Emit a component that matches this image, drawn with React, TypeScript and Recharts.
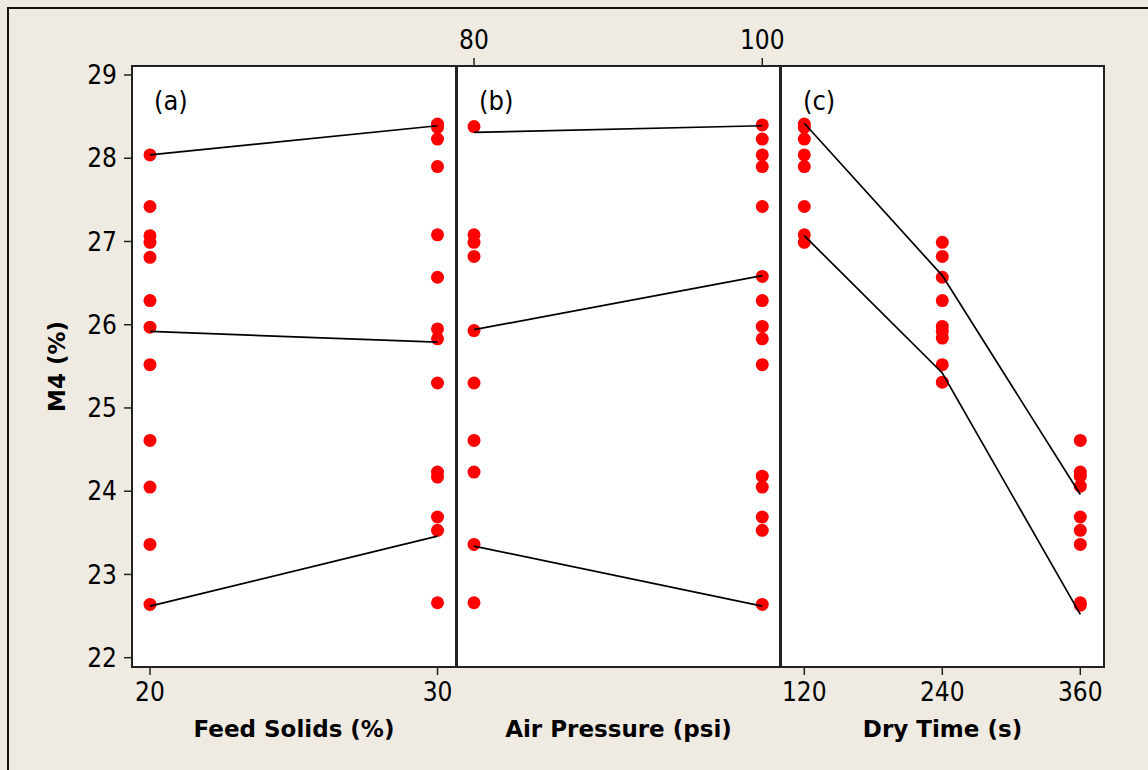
import { ScatterChart, Scatter, XAxis, YAxis } from 'recharts'

const FONT = "'DejaVu Sans Condensed', Tahoma, 'DejaVu Sans', sans-serif"
const BOLD_FONT = "'DejaVu Sans', Verdana, sans-serif"
const BG = '#efebe2'
const EDGE = '#222'
const RED = '#ff0000'

// shared M4 (%) axis
const Y_DOMAIN: [number, number] = [21.888, 29.108]
const Y_TICKS = [22, 23, 24, 25, 26, 27, 28, 29]

// (a) Feed Solids (%)
const FEED_LEVELS = [20, 30]
const feed20 = [28.04, 27.42, 27.07, 26.99, 26.81, 26.29, 25.97, 25.52, 24.61, 24.05, 23.36, 22.64]
const feed30 = [28.41, 28.37, 28.23, 27.9, 27.08, 26.57, 25.95, 25.83, 25.3, 24.23, 24.17, 23.69, 23.53, 22.66]
const feedLineTop = [28.04, 28.39]
const feedLineMid = [25.92, 25.79]
const feedLineLow = [22.62, 23.46]

// (b) Air Pressure (psi)
const AIR_LEVELS = [80, 100]
const air80 = [28.38, 27.08, 26.99, 26.82, 25.93, 25.3, 24.61, 24.23, 23.36, 22.66]
const air100 = [28.4, 28.23, 28.04, 27.9, 27.42, 26.58, 26.29, 25.98, 25.83, 25.52, 24.18, 24.05, 23.69, 23.53, 22.64]
const airLineTop = [28.31, 28.39]
const airLineMid = [25.94, 26.59]
const airLineLow = [23.34, 22.62]

// (c) Dry Time (s)
const DRY_LEVELS = [120, 240, 360]
const dry120 = [28.41, 28.37, 28.23, 28.04, 27.9, 27.42, 27.08, 26.99]
const dry240 = [26.99, 26.82, 26.57, 26.29, 25.98, 25.92, 25.84, 25.52, 25.31]
const dry360 = [24.61, 24.23, 24.18, 24.06, 23.69, 23.53, 23.36, 22.66, 22.63]
const dryLineTop = [28.42, 26.59, 23.96]
const dryLineLow = [27.07, 25.42, 22.52]

interface Pt {
  x: number
  y: number
}

const toPoints = (levels: number[], groups: number[][]): Pt[] =>
  groups.flatMap((ys, i) => ys.map((y) => ({ x: levels[i], y })))

const toLine = (levels: number[], ys: number[]): Pt[] => ys.map((y, i) => ({ x: levels[i], y }))

const PLOT_TOP = 66
const PLOT_H = 601
const CHART_H = 770
const PAD = 30 // room on the right so end tick labels are not clipped

function Dot(props: { cx?: number; cy?: number }) {
  return <circle cx={props.cx} cy={props.cy} r={6.5} fill={RED} />
}

function NoShape() {
  return <g />
}

function YTitle(props: { viewBox?: { y: number; height: number } }) {
  const cy = (props.viewBox?.y ?? PLOT_TOP) + (props.viewBox?.height ?? PLOT_H) / 2
  return (
    <text
      x={65}
      y={cy}
      transform={`rotate(-90, 65, ${cy})`}
      textAnchor="middle"
      fontFamily={BOLD_FONT}
      fontWeight={700}
      fontSize={23}
      fill="#000"
    >
      M4 (%)
    </text>
  )
}

function Panel({
  left,
  plotW,
  plotLeft,
  domain,
  ticks,
  topTicks,
  title,
  tag,
  points,
  lines,
  showY,
}: {
  left: number
  plotW: number
  plotLeft: number
  domain: [number, number]
  ticks: number[]
  topTicks?: boolean
  title: string
  tag: string
  points: Pt[]
  lines: Pt[][]
  showY?: boolean
}) {
  const width = plotLeft + plotW + PAD
  const tickStyle = { fontSize: 26, fill: '#000', fontFamily: FONT }
  const titleLabel = {
    value: title,
    position: 'insideBottom' as const,
    offset: 10,
    fill: '#000',
    fontSize: 23,
    fontWeight: 700,
    fontFamily: BOLD_FONT,
  }
  const xId = topTicks ? 'top' : 'bottom'
  return (
    <div style={{ position: 'absolute', left, top: 0, width, height: CHART_H }}>
      <div
        style={{
          position: 'absolute',
          left: plotLeft - 1,
          top: PLOT_TOP - 1,
          width: plotW + 2,
          height: PLOT_H + 2,
          background: '#fff',
          border: `2px solid ${EDGE}`,
          boxSizing: 'border-box',
        }}
      />
      <div style={{ position: 'absolute', left: 0, top: 0 }}>
        <ScatterChart
          width={width}
          height={CHART_H}
          margin={{ top: topTicks ? 0 : PLOT_TOP, right: PAD, bottom: 23, left: 0 }}
        >
          {topTicks && (
            <XAxis
              xAxisId="top"
              orientation="top"
              type="number"
              dataKey="x"
              domain={domain}
              ticks={ticks}
              interval={0}
              allowDataOverflow
              height={PLOT_TOP}
              tickSize={8}
              tickMargin={9}
              axisLine={false}
              tickLine={{ stroke: EDGE, strokeWidth: 1.5 }}
              tick={tickStyle}
            />
          )}
          <XAxis
            xAxisId="bottom"
            type="number"
            dataKey="x"
            domain={domain}
            ticks={topTicks ? [] : ticks}
            interval={0}
            allowDataOverflow
            height={80}
            tickSize={8}
            tickMargin={8}
            axisLine={false}
            tickLine={topTicks ? false : { stroke: EDGE, strokeWidth: 1.5 }}
            tick={topTicks ? false : tickStyle}
            label={titleLabel}
          />
          {showY ? (
            <YAxis
              type="number"
              domain={Y_DOMAIN}
              ticks={Y_TICKS}
              interval={0}
              allowDataOverflow
              width={plotLeft}
              tickSize={8}
              tickMargin={7}
              axisLine={false}
              tickLine={{ stroke: EDGE, strokeWidth: 1.5 }}
              tick={tickStyle}
              label={<YTitle />}
            />
          ) : (
            <YAxis type="number" domain={Y_DOMAIN} allowDataOverflow hide />
          )}
          <Scatter
            xAxisId={xId}
            data={points}
            dataKey="y"
            shape={<Dot />}
            isAnimationActive={false}
          />
          {lines.map((line, i) => (
            <Scatter
              key={i}
              xAxisId={xId}
              data={line}
              dataKey="y"
              shape={<NoShape />}
              line={{ stroke: '#000', strokeWidth: 1.7 }}
              isAnimationActive={false}
            />
          ))}
          <text x={plotLeft + 22} y={110} fontFamily={FONT} fontSize={27} fill="#000">
            {tag}
          </text>
        </ScatterChart>
      </div>
    </div>
  )
}

export default function App() {
  return (
    <div
      style={{
        position: 'absolute',
        left: 0,
        top: 0,
        width: 1148,
        height: 770,
        overflow: 'hidden',
        background: BG,
      }}
    >
      <div
        style={{
          position: 'absolute',
          left: 7,
          top: 7,
          width: 1300,
          height: 900,
          border: '2px solid #111',
        }}
      />
      <Panel
        left={0}
        plotW={324}
        plotLeft={132}
        domain={[19.374, 30.643]}
        ticks={FEED_LEVELS}
        title="Feed Solids (%)"
        tag="(a)"
        points={toPoints(FEED_LEVELS, [feed20, feed30])}
        lines={[feedLineTop, feedLineMid, feedLineLow].map((l) => toLine(FEED_LEVELS, l))}
        showY
      />
      <Panel
        left={457}
        plotW={323}
        plotLeft={0}
        domain={[78.82, 101.23]}
        ticks={AIR_LEVELS}
        topTicks
        title="Air Pressure (psi)"
        tag="(b)"
        points={toPoints(AIR_LEVELS, [air80, air100])}
        lines={[airLineTop, airLineMid, airLineLow].map((l) => toLine(AIR_LEVELS, l))}
      />
      <Panel
        left={781}
        plotW={323}
        plotLeft={0}
        domain={[99.74, 380.6]}
        ticks={DRY_LEVELS}
        title="Dry Time (s)"
        tag="(c)"
        points={toPoints(DRY_LEVELS, [dry120, dry240, dry360])}
        lines={[dryLineTop, dryLineLow].map((l) => toLine(DRY_LEVELS, l))}
      />
    </div>
  )
}
